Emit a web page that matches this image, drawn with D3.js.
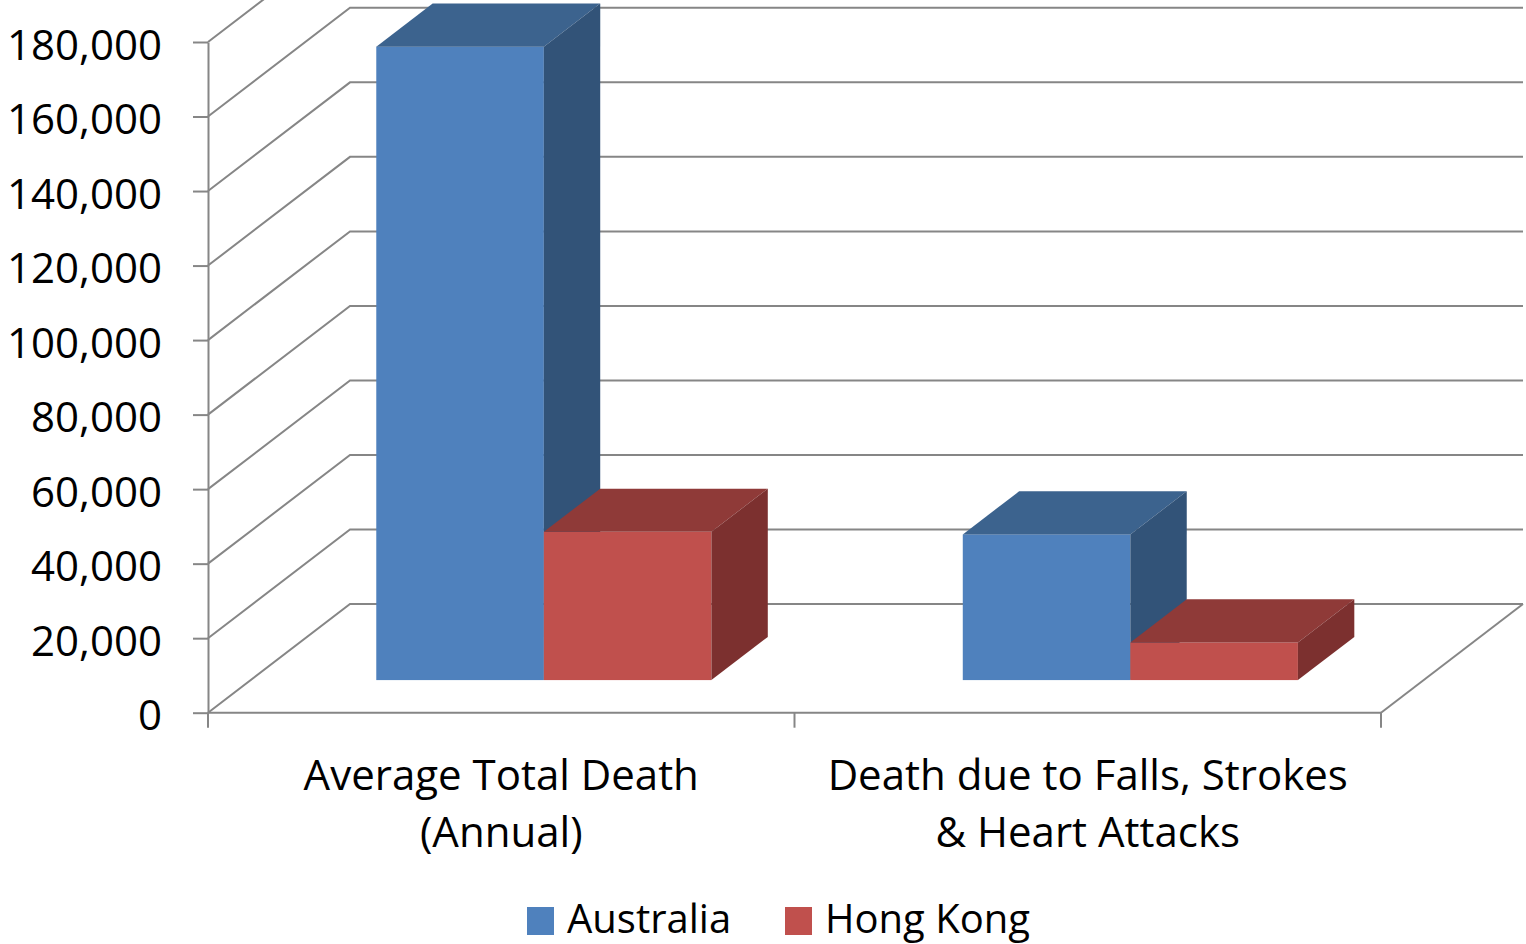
<!DOCTYPE html>
<html>
<head>
<meta charset="utf-8">
<script src="https://cdn.jsdelivr.net/npm/d3@7"></script>
<style>
  body { margin: 0; background: #fff; }
  svg text { font-family: "Open Sans", sans-serif; fill: #000; }
</style>
</head>
<body>
<div id="chart"></div>
<script>
// data
const categories = ["Average Total Death (Annual)", "Death due to Falls, Strokes & Heart Attacks"];
const categoryLines = [["Average Total Death", "(Annual)"], ["Death due to Falls, Strokes", "& Heart Attacks"]];
const seriesNames = ["Australia", "Hong Kong"];
const australia = [170000, 39100];
const hongKong = [39800, 10100];
const yTicks = [0, 20000, 40000, 60000, 80000, 100000, 120000, 140000, 160000, 180000];

const W = 1526, H = 944;
const colors = {
  "Australia": { front: "#4F81BD", top: "#3C638E", side: "#325378" },
  "Hong Kong": { front: "#C0504D", top: "#8F3A38", side: "#7C302F" }
};
const gridColor = "#868686";

const svg = d3.select("#chart").append("svg")
  .attr("width", W).attr("height", H);

const y = d3.scaleLinear().domain([0, 180000]).range([712.7, 42]);
const x = d3.scaleBand().domain(categories).range([208, 1381]);
const inner = d3.scaleBand().domain(seriesNames).range([0, x.bandwidth()])
  .paddingInner(0).paddingOuter(0.75);

// depth of the floor, as an oblique offset
const depthX = d3.scaleLinear().domain([0, 1]).range([0, 142]);
const depthY = d3.scaleLinear().domain([0, 1]).range([0, -108.7]);
const barFront = 0.3, barBack = 0.697;

const grid = svg.append("g")
  .attr("fill", "none").attr("stroke", gridColor).attr("stroke-width", 2);

// side wall + back wall gridlines
yTicks.forEach(v => {
  const bx = 208 + depthX(1), by = y(v) + depthY(1);
  grid.append("path")
    .attr("d", `M208,${y(v)}L${bx},${by}L${1381 + depthX(1)},${by}`);
});
// floor right edge
grid.append("line")
  .attr("x1", 1381).attr("y1", y(0))
  .attr("x2", 1381 + depthX(1)).attr("y2", y(0) + depthY(1));

// bars
const rows = categories.map((c, i) => ({ c, vals: [australia[i], hongKong[i]] }));
const pt = (px, py) => px + "," + py;

rows.forEach(r => {
  r.vals.forEach((v, j) => {
    const s = seriesNames[j];
    const x0 = x(r.c) + inner(s) + depthX(barFront);
    const x1 = x0 + inner.bandwidth();
    const yb = y(0) + depthY(barFront);
    const yt = y(v) + depthY(barFront);
    const dx = depthX(barBack) - depthX(barFront);
    const dy = depthY(barBack) - depthY(barFront);
    const g = svg.append("g");
    g.append("rect")
      .attr("x", x0).attr("y", yt)
      .attr("width", x1 - x0).attr("height", yb - yt)
      .attr("fill", colors[s].front);
    g.append("polygon")
      .attr("points", [pt(x0, yt), pt(x1, yt), pt(x1 + dx, yt + dy), pt(x0 + dx, yt + dy)].join(" "))
      .attr("fill", colors[s].top);
    g.append("polygon")
      .attr("points", [pt(x1, yt), pt(x1 + dx, yt + dy), pt(x1 + dx, yb + dy), pt(x1, yb)].join(" "))
      .attr("fill", colors[s].side);
  });
});

// y axis
const yAxis = svg.append("g")
  .attr("transform", "translate(208,0)")
  .call(d3.axisLeft(y).tickValues(yTicks).tickFormat(d3.format(",")).tickSize(15).tickSizeOuter(0).tickPadding(31));
yAxis.selectAll("path, line").attr("stroke", gridColor).attr("stroke-width", 2);
yAxis.selectAll("text")
  .attr("font-size", 42).attr("font-family", "Open Sans, sans-serif")
  .attr("dy", null).attr("y", 17);

// category axis
svg.append("line")
  .attr("x1", 208).attr("x2", 1381).attr("y1", y(0)).attr("y2", y(0))
  .attr("stroke", gridColor).attr("stroke-width", 2);
const bounds = categories.map(c => x(c)).concat([x(categories[1]) + x.bandwidth()]);
svg.selectAll(".ctick").data(bounds).enter().append("line")
  .attr("x1", d => d).attr("x2", d => d)
  .attr("y1", y(0)).attr("y2", y(0) + 15)
  .attr("stroke", gridColor).attr("stroke-width", 2);

categories.forEach((c, i) => {
  const t = svg.append("text")
    .attr("text-anchor", "middle")
    .attr("font-size", 42);
  categoryLines[i].forEach((ln, k) => {
    t.append("tspan")
      .attr("x", x(c) + x.bandwidth() / 2)
      .attr("y", 790 + k * 57)
      .text(ln);
  });
});

// legend
const legendX = [527, 785];
seriesNames.forEach((s, i) => {
  svg.append("rect")
    .attr("x", legendX[i]).attr("y", 907)
    .attr("width", 27).attr("height", 28)
    .attr("fill", colors[s].front);
  svg.append("text")
    .attr("x", legendX[i] + 40).attr("y", 933)
    .attr("font-size", 40)
    .text(s);
});
</script>
</body>
</html>
